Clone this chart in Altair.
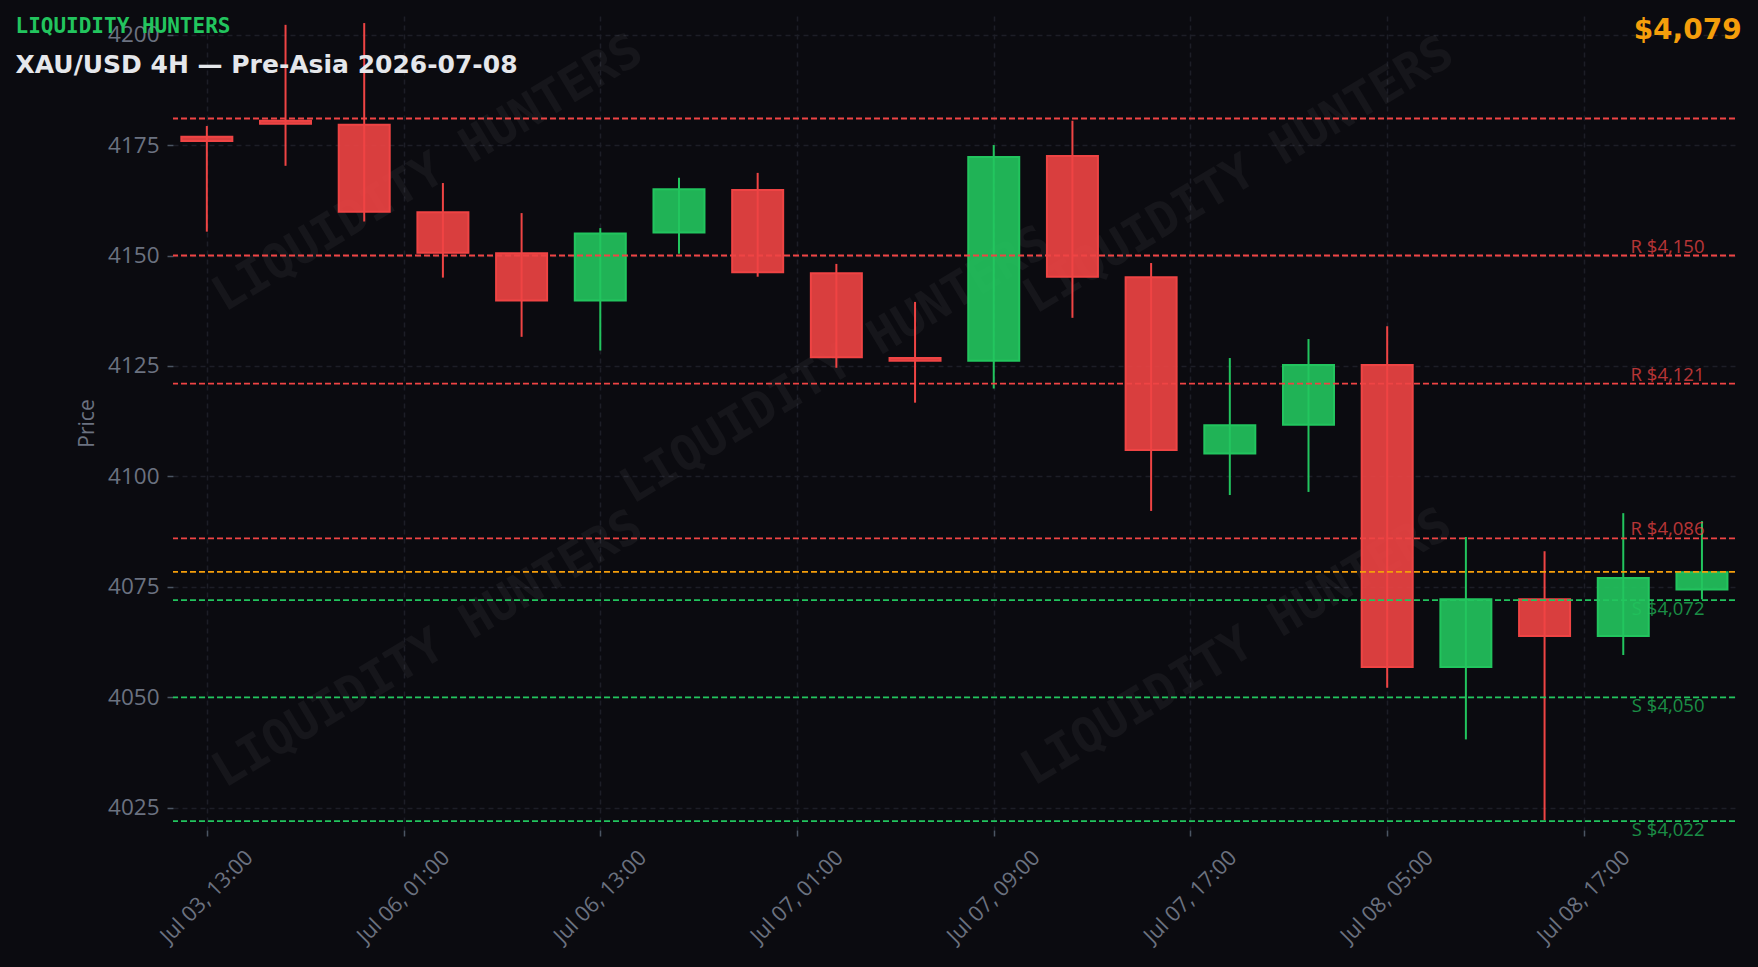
import altair as alt
import pandas as pd

# ---- data ----
candle_index = list(range(20))
opens  = [4176.9, 4180.5, 4179.6, 4159.8, 4150.5, 4139.8, 4155.2, 4164.8, 4146.0, 4126.8,
          4126.2, 4172.5, 4145.1, 4105.2, 4111.7, 4125.2, 4056.9, 4072.2, 4063.9, 4074.4]
highs  = [4179.3, 4202.2, 4202.6, 4166.4, 4159.6, 4156.2, 4167.6, 4168.7, 4148.1, 4139.5,
          4175.0, 4180.5, 4148.3, 4126.8, 4131.1, 4134.0, 4086.3, 4083.1, 4091.7, 4089.9]
lows   = [4155.4, 4170.3, 4157.7, 4145.0, 4131.6, 4128.5, 4150.4, 4145.2, 4124.6, 4116.7,
          4119.9, 4135.9, 4092.2, 4095.8, 4096.5, 4052.2, 4040.5, 4022.2, 4059.6, 4072.2]
closes = [4175.9, 4179.8, 4159.9, 4150.6, 4139.8, 4155.0, 4165.0, 4146.2, 4127.0, 4126.2,
          4172.3, 4145.2, 4106.0, 4111.6, 4125.2, 4056.9, 4072.2, 4063.9, 4077.0, 4078.3]

tick_positions = [0, 2.5, 5, 7.5, 10, 12.5, 15, 17.5]
tick_labels = ["Jul 03, 13:00", "Jul 06, 01:00", "Jul 06, 13:00", "Jul 07, 01:00",
               "Jul 07, 09:00", "Jul 07, 17:00", "Jul 08, 05:00", "Jul 08, 17:00"]
y_ticks = [4025, 4050, 4075, 4100, 4125, 4150, 4175, 4200]

resistance_levels = [4181, 4150, 4121, 4086]
resistance_labels = ["", "R $4,150", "R $4,121", "R $4,086"]
support_levels = [4072, 4050, 4022]
support_labels = ["S $4,072", "S $4,050", "S $4,022"]
current_price = 4078.4
current_label = "$4,079"

title_text = "XAU/USD 4H — Pre-Asia 2026-07-08"
brand_text = "LIQUIDITY HUNTERS"

# ---- styles ----
BG = "#0b0b10"
GREEN = "#22c55e"
RED = "#ef4444"
ORANGE = "#f59e0b"
GRID = "#1d1e27"
TICKTXT = "#6b7280"

W, H = 1562, 814

df = pd.DataFrame({"i": candle_index, "open": opens, "high": highs, "low": lows, "close": closes})
df["dir"] = ["up" if c >= o else "down" for o, c in zip(opens, closes)]

cscale = alt.Scale(domain=["up", "down"], range=[GREEN, RED])
xscale = alt.Scale(domain=[-0.43, 19.42], nice=False, zero=False, padding=0)
yscale = alt.Scale(domain=[4020, 4204.2], nice=False, zero=False, padding=0)

label_expr = "[" + ",".join("'%s'" % t for t in tick_labels) + "][round(datum.value / 2.5)]"

xaxis = alt.Axis(values=tick_positions, labelExpr=label_expr, title=None,
                 labelAngle=315, labelAlign="center", labelBaseline="middle",
                 labelPadding=61, labelFont="Open Sans", labelFontSize=21.5, labelColor=TICKTXT,
                 labelOverlap=False, labelFlush=False, labelBound=False,
                 tickColor="#4b5563", tickSize=6, tickWidth=1.5, domain=False,
                 grid=True, gridColor=GRID, gridDash=[5, 4], gridWidth=1.5)
yaxis = alt.Axis(values=y_ticks, format="d", title="Price", titleFont="Open Sans", titleFontSize=21,
                 titleFontWeight="normal", titleColor=TICKTXT, titleX=-86, titleY=407,
                 titleAngle=270, titleAlign="center", titleBaseline="middle",
                 labelFont="Open Sans", labelFontSize=22.5, labelColor=TICKTXT, labelPadding=8,
                 tickColor="#4b5563", tickSize=6, tickWidth=1.5, domain=False,
                 grid=True, gridColor=GRID, gridDash=[5, 4], gridWidth=1.5)

base = alt.Chart(df).encode(x=alt.X("i:Q", scale=xscale, axis=xaxis))

wicks = base.mark_rule(strokeWidth=2).encode(
    y=alt.Y("low:Q", scale=yscale, axis=yaxis), y2="high:Q",
    color=alt.Color("dir:N", scale=cscale, legend=None))

bodies = base.mark_bar(size=51, strokeWidth=2, fillOpacity=0.9).encode(
    y=alt.Y("open:Q"), y2="close:Q",
    fill=alt.Fill("dir:N", scale=cscale, legend=None),
    stroke=alt.Stroke("dir:N", scale=cscale, legend=None))

res_df = pd.DataFrame({"value": resistance_levels, "label": resistance_labels})
sup_df = pd.DataFrame({"value": support_levels, "label": support_labels})
cur_df = pd.DataFrame({"value": [current_price]})

res_rules = alt.Chart(res_df).mark_rule(strokeWidth=1.8, strokeDash=[6, 3], color=RED).encode(
    y=alt.Y("value:Q"))
sup_rules = alt.Chart(sup_df).mark_rule(strokeWidth=1.8, strokeDash=[6, 3], color=GREEN).encode(
    y=alt.Y("value:Q"))
cur_rule = alt.Chart(cur_df).mark_rule(strokeWidth=1.8, strokeDash=[6, 3], color=ORANGE).encode(
    y=alt.Y("value:Q"))

r_labels = alt.Chart(res_df).transform_filter("datum.label != ''").mark_text(
    align="right", baseline="alphabetic", dy=-3, font="Open Sans", fontSize=18.5,
    color=RED, opacity=0.75).encode(x=alt.value(1531.5), y=alt.Y("value:Q"), text="label:N")

s_labels = alt.Chart(sup_df).transform_filter("datum.label != ''").mark_text(
    align="right", baseline="top", dy=0, font="Open Sans", fontSize=18.5,
    color=GREEN, opacity=0.7).encode(x=alt.value(1531.5), y=alt.Y("value:Q"), text="label:N")

# watermark
wm_positions = [(255, 158), (663, 350), (1066, 160), (255, 634), (1064, 632)]
wm_layers = []
for px, py in wm_positions:
    wm_layers.append(
        alt.Chart(pd.DataFrame({"t": [brand_text]})).mark_text(
            font="DejaVu Sans Mono", fontWeight="bold", fontSize=48, angle=329,
            align="center", baseline="middle", color="#ffffff", opacity=0.045
        ).encode(x=alt.value(px), y=alt.value(py), text="t:N"))

brand = alt.Chart(pd.DataFrame({"t": [brand_text]})).mark_text(
    font="DejaVu Sans Mono", fontWeight="bold", fontSize=21, align="left",
    baseline="alphabetic", color=GREEN).encode(x=alt.value(-157.5), y=alt.value(17), text="t:N")

title = alt.Chart(pd.DataFrame({"t": [title_text]})).mark_text(
    font="DejaVu Sans", fontWeight="bold", fontSize=25, align="left",
    baseline="alphabetic", color="#e5e7eb").encode(x=alt.value(-157.5), y=alt.value(57.3), text="t:N")

price_txt = alt.Chart(pd.DataFrame({"t": [current_label]})).mark_text(
    font="DejaVu Sans", fontWeight="bold", fontSize=28, align="right",
    baseline="alphabetic", color=ORANGE).encode(x=alt.value(1568.7), y=alt.value(22.5), text="t:N")

chart = alt.layer(*wm_layers, wicks, bodies, res_rules, sup_rules, cur_rule, r_labels, s_labels,
                  brand, title, price_txt).properties(
    width=W, height=H,
    padding={"left": 173, "top": 16, "right": 23, "bottom": 137},
    autosize=alt.AutoSizeParams(type="none"),
    background=BG,
).configure_view(stroke=None, fill=BG)

chart.save("out.html", embed_options={"renderer": "svg", "actions": False})
